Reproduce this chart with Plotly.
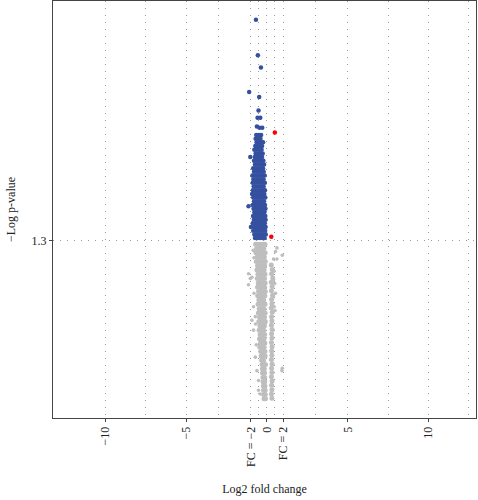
import plotly.graph_objects as go

# ---- data (log2 fold change, -log10 p-value) ----
blue_pts = [
    (-0.68, 3.10), (-0.56, 2.81), (-0.37, 2.71), (-1.10, 2.51), (-0.48, 2.47), (-0.52, 2.36),
    (-0.58, 2.30), (-0.41, 2.30), (-0.62, 2.23), (-0.46, 2.22), (-0.29, 2.22),
    (-1.14, 1.58), (-0.99, 1.41), (-1.03, 1.98),
    (-0.66, 2.16), (-0.50, 2.16), (-0.36, 2.16),
    (-0.70, 2.13), (-0.55, 2.13), (-0.40, 2.13),
    (-0.64, 2.10), (-0.48, 2.10), (-0.33, 2.10), (-0.24, 2.10),
    (-0.72, 2.07), (-0.57, 2.07), (-0.42, 2.07), (-0.30, 2.07),
    (-0.78, 2.04), (-0.62, 2.04), (-0.47, 2.04), (-0.33, 2.04),
    (-0.70, 2.01), (-0.55, 2.01), (-0.40, 2.01), (-0.26, 2.01),
    (-0.75, 1.98), (-0.60, 1.98), (-0.45, 1.98), (-0.30, 1.98),
    (-0.80, 1.95), (-0.64, 1.95), (-0.49, 1.95), (-0.34, 1.95), (-0.22, 1.95),
    (-0.74, 1.92), (-0.58, 1.92), (-0.43, 1.92), (-0.28, 1.92), (-0.18, 1.92),
    (-0.85, 1.89), (-0.68, 1.89), (-0.52, 1.89), (-0.37, 1.89), (-0.24, 1.89),
    (-0.80, 1.86), (-0.63, 1.86), (-0.47, 1.86), (-0.32, 1.86), (-0.20, 1.86),
    (-0.90, 1.83), (-0.73, 1.83), (-0.57, 1.83), (-0.41, 1.83), (-0.26, 1.83), (-0.14, 1.83),
    (-0.84, 1.80), (-0.67, 1.80), (-0.51, 1.80), (-0.36, 1.80), (-0.21, 1.80),
    (-0.88, 1.77), (-0.72, 1.77), (-0.56, 1.77), (-0.41, 1.77), (-0.26, 1.77), (-0.13, 1.77),
    (-0.82, 1.74), (-0.66, 1.74), (-0.50, 1.74), (-0.35, 1.74), (-0.20, 1.74),
    (-0.87, 1.71), (-0.71, 1.71), (-0.55, 1.71), (-0.40, 1.71), (-0.25, 1.71), (-0.12, 1.71),
    (-0.92, 1.68), (-0.76, 1.68), (-0.60, 1.68), (-0.45, 1.68), (-0.30, 1.68), (-0.16, 1.68),
    (-0.85, 1.65), (-0.69, 1.65), (-0.53, 1.65), (-0.38, 1.65), (-0.23, 1.65), (-0.10, 1.65),
    (-0.80, 1.62), (-0.64, 1.62), (-0.48, 1.62), (-0.33, 1.62), (-0.18, 1.62),
    (-0.88, 1.59), (-0.72, 1.59), (-0.57, 1.59), (-0.42, 1.59), (-0.27, 1.59), (-0.12, 1.59),
    (-0.83, 1.56), (-0.67, 1.56), (-0.51, 1.56), (-0.36, 1.56), (-0.21, 1.56), (-0.09, 1.56),
    (-0.78, 1.53), (-0.62, 1.53), (-0.46, 1.53), (-0.31, 1.53), (-0.16, 1.53),
    (-0.86, 1.50), (-0.70, 1.50), (-0.55, 1.50), (-0.40, 1.50), (-0.25, 1.50), (-0.10, 1.50),
    (-0.81, 1.47), (-0.65, 1.47), (-0.50, 1.47), (-0.35, 1.47), (-0.20, 1.47), (-0.08, 1.47),
    (-0.88, 1.44), (-0.73, 1.44), (-0.58, 1.44), (-0.43, 1.44), (-0.28, 1.44), (-0.13, 1.44),
    (-0.80, 1.41), (-0.65, 1.41), (-0.50, 1.41), (-0.35, 1.41), (-0.20, 1.41), (-0.08, 1.41),
    (-0.85, 1.38), (-0.70, 1.38), (-0.55, 1.38), (-0.40, 1.38), (-0.25, 1.38), (-0.11, 1.38),
    (-0.78, 1.35), (-0.63, 1.35), (-0.48, 1.35), (-0.33, 1.35), (-0.18, 1.35), (-0.07, 1.35),
    (-0.74, 1.32), (-0.58, 1.32), (-0.43, 1.32), (-0.28, 1.32), (-0.14, 1.32),
]

red_pts = [(0.49, 2.18), (0.27, 1.33)]

gray_dense_pts = [
    # main column
    (-0.70, 1.270), (-0.55, 1.270), (-0.40, 1.270), (-0.25, 1.270), (-0.12, 1.270),
    (-0.64, 1.235), (-0.49, 1.235), (-0.34, 1.235), (-0.19, 1.235),
    (-0.68, 1.200), (-0.53, 1.200), (-0.38, 1.200), (-0.23, 1.200), (-0.11, 1.200),
    (-0.60, 1.165), (-0.45, 1.165), (-0.30, 1.165), (-0.16, 1.165),
    (-0.66, 1.130), (-0.51, 1.130), (-0.36, 1.130), (-0.21, 1.130), (-0.10, 1.130),
    (-0.58, 1.095), (-0.43, 1.095), (-0.28, 1.095), (-0.14, 1.095),
    (-0.62, 1.060), (-0.47, 1.060), (-0.32, 1.060), (-0.17, 1.060),
    (-0.56, 1.025), (-0.41, 1.025), (-0.26, 1.025), (-0.12, 1.025),
    (-0.60, 0.990), (-0.45, 0.990), (-0.30, 0.990), (-0.15, 0.990),
    (-0.54, 0.955), (-0.39, 0.955), (-0.24, 0.955), (-0.11, 0.955),
    (-0.58, 0.920), (-0.43, 0.920), (-0.28, 0.920), (-0.14, 0.920),
    (-0.52, 0.885), (-0.37, 0.885), (-0.22, 0.885), (-0.10, 0.885),
    (-0.57, 0.850), (-0.42, 0.850), (-0.27, 0.850), (-0.13, 0.850),
    (-0.50, 0.815), (-0.35, 0.815), (-0.20, 0.815),
    (-0.55, 0.780), (-0.40, 0.780), (-0.25, 0.780), (-0.12, 0.780),
    (-0.48, 0.745), (-0.33, 0.745), (-0.18, 0.745),
    (-0.53, 0.710), (-0.38, 0.710), (-0.23, 0.710), (-0.11, 0.710),
    (-0.46, 0.675), (-0.31, 0.675), (-0.16, 0.675),
    (-0.50, 0.640), (-0.35, 0.640), (-0.20, 0.640), (-0.10, 0.640),
    (-0.44, 0.605), (-0.29, 0.605), (-0.15, 0.605),
    (-0.48, 0.570), (-0.33, 0.570), (-0.19, 0.570),
    (-0.42, 0.535), (-0.28, 0.535), (-0.14, 0.535),
    (-0.46, 0.500), (-0.32, 0.500), (-0.18, 0.500),
    (-0.40, 0.465), (-0.26, 0.465), (-0.13, 0.465),
    (-0.44, 0.430), (-0.30, 0.430), (-0.17, 0.430),
    (-0.38, 0.395), (-0.25, 0.395), (-0.12, 0.395),
    (-0.36, 0.360), (-0.23, 0.360), (-0.11, 0.360),
    (-0.33, 0.325), (-0.21, 0.325),
    (-0.30, 0.290), (-0.18, 0.290), (-0.09, 0.290),
    (-0.28, 0.255), (-0.16, 0.255),
    (-0.27, 0.220), (-0.15, 0.220),
    (-0.25, 0.185), (-0.14, 0.185),
    (-0.24, 0.150), (-0.13, 0.150),
    (-0.22, 0.115), (-0.12, 0.115),
    (-0.21, 0.080), (-0.11, 0.080),
    (-0.20, 0.045), (-0.10, 0.045),
    (-0.18, 0.010), (-0.09, 0.010),
    # right column
    (0.27, 1.100), (0.33, 1.065), (0.29, 1.030), (0.36, 0.995), (0.27, 0.960),
    (0.32, 0.925), (0.28, 0.890), (0.35, 0.855), (0.29, 0.820), (0.31, 0.785),
    (0.27, 0.750), (0.33, 0.715), (0.29, 0.680), (0.31, 0.645), (0.28, 0.610),
    (0.32, 0.575), (0.29, 0.540), (0.31, 0.505), (0.28, 0.470), (0.32, 0.435),
    (0.29, 0.400), (0.31, 0.365), (0.28, 0.330), (0.32, 0.295), (0.29, 0.260),
    (0.31, 0.225), (0.28, 0.190), (0.32, 0.155), (0.29, 0.120), (0.31, 0.085),
    (0.28, 0.050), (0.31, 0.015),
]

gray_sparse_pts = [
    # scattered right
    (0.53, 1.21), (0.62, 1.15), (0.95, 1.18), (0.41, 1.15), (0.41, 0.98),
    (0.53, 0.87), (0.41, 0.84), (0.50, 0.73), (0.45, 0.76), (0.95, 0.26),
    (0.93, 0.24), (0.62, 1.24), (0.45, 1.05), (0.48, 0.95),
    # scattered left
    (-1.14, 1.03), (-1.03, 0.99), (-1.14, 0.94), (-0.93, 1.00), (-0.80, 0.87),
    (-0.83, 0.76), (-0.93, 0.65), (-0.83, 0.57), (-0.72, 0.68), (-0.70, 0.62),
    (-0.72, 0.35), (-0.62, 0.24), (-0.52, 0.16), (-0.52, 0.08), (-0.41, 0.05),
    (-0.80, 1.16), (-0.85, 1.22), (-0.66, 0.45),
]

x_tickvals = [-10, -5, -1, 0, 1, 5, 10]
x_ticktext = ["\u221210", "\u22125", "FC = \u22122", "0", "FC = 2", "5", "10"]
x_minor_vals = [-7.5, -3, -0.5, 0.5, 3, 7.5, 12.5]
y_tickvals = [1.3]
y_ticktext = ["1.3"]

FONT = "Liberation Serif, Times New Roman, serif"
GRID = "#9a9a9a"
LINE = "#444444"

fig = go.Figure()
fig.add_trace(go.Scatter(
    x=[p[0] for p in gray_dense_pts], y=[p[1] for p in gray_dense_pts], mode="markers",
    marker=dict(color="#bebebe", size=5, line=dict(width=0)), showlegend=False))
fig.add_trace(go.Scatter(
    x=[p[0] for p in gray_sparse_pts], y=[p[1] for p in gray_sparse_pts], mode="markers",
    marker=dict(color="#bebebe", size=3.6, line=dict(width=0)), showlegend=False))
fig.add_trace(go.Scatter(
    x=[p[0] for p in blue_pts], y=[p[1] for p in blue_pts], mode="markers",
    marker=dict(color="#34509f", size=4.5, line=dict(width=0)), showlegend=False))
fig.add_trace(go.Scatter(
    x=[p[0] for p in red_pts], y=[p[1] for p in red_pts], mode="markers",
    marker=dict(color="#ff0000", size=4.5, line=dict(width=0)), showlegend=False))

fig.update_layout(
    width=478, height=500,
    margin=dict(l=53, r=2, t=1, b=82, autoexpand=False),
    paper_bgcolor="white", plot_bgcolor="white",
    font=dict(family=FONT, size=12, color="#222222"),
    xaxis=dict(
        range=[-13.25, 12.95], tickmode="array", tickvals=x_tickvals, ticktext=x_ticktext,
        tickangle=-90, ticks="outside", ticklen=3, tickwidth=1, tickcolor=LINE,
        showline=True, linecolor=LINE, linewidth=1, mirror=True,
        showgrid=True, gridcolor=GRID, gridwidth=1, griddash="1px,6px",
        minor=dict(tickvals=x_minor_vals, showgrid=True, gridcolor=GRID, gridwidth=1,
                   griddash="1px,6px", ticks=""),
        zeroline=False, automargin=False,
        title=dict(text="Log2 fold change", font=dict(family=FONT, size=12), standoff=18),
    ),
    yaxis=dict(
        range=[-0.146, 3.252], tickmode="array", tickvals=y_tickvals, ticktext=y_ticktext,
        ticks="outside", ticklen=3, tickwidth=1, tickcolor=LINE,
        showline=True, linecolor=LINE, linewidth=1, mirror=True,
        showgrid=True, gridcolor=GRID, gridwidth=1, griddash="1px,6px",
        zeroline=False, automargin=False,
        title=dict(text="\u2212Log p-value", font=dict(family=FONT, size=12), standoff=13),
    ),
)

fig.write_html("out.html", config={"displayModeBar": False},
               post_script="document.body.style.margin='0px';")
